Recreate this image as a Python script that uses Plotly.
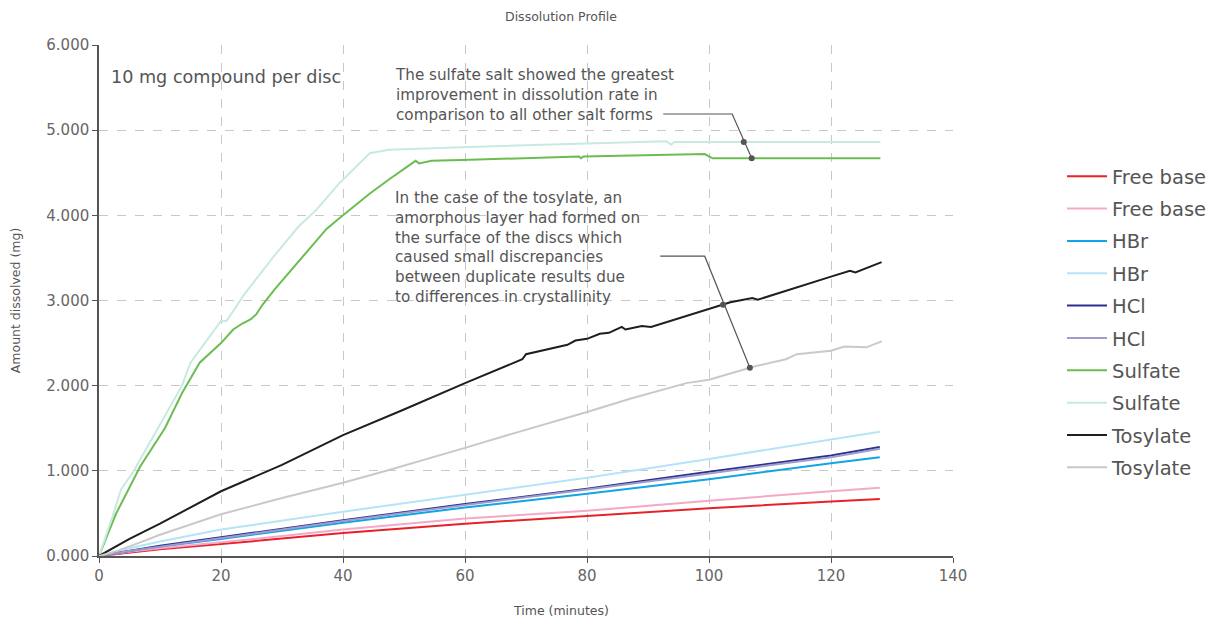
import plotly.graph_objects as go

# ---------------- data ----------------
t_lin = [0, 5, 10, 20, 40, 60, 80, 100, 120, 128]
free_base_1 = [0, 0.04, 0.08, 0.14, 0.27, 0.38, 0.47, 0.56, 0.64, 0.67]
free_base_2 = [0, 0.05, 0.09, 0.16, 0.31, 0.44, 0.53, 0.65, 0.76, 0.80]
hbr_1 = [0, 0.06, 0.11, 0.20, 0.39, 0.57, 0.73, 0.90, 1.09, 1.16]
hbr_2 = [0, 0.09, 0.17, 0.31, 0.52, 0.72, 0.92, 1.14, 1.37, 1.46]
hcl_1 = [0, 0.06, 0.12, 0.22, 0.42, 0.61, 0.79, 0.99, 1.18, 1.28]
hcl_2 = [0, 0.06, 0.11, 0.21, 0.41, 0.60, 0.78, 0.97, 1.16, 1.26]

t_sulf_1 = [0, 2.75, 6.75, 10.8, 13.6, 16.5, 20, 22, 23.5, 24.9, 25.8, 26.8, 28.9, 32.3, 37.3,
            39.3, 44.3, 47.7, 51.9, 52.5, 54.5, 59.5, 78.7, 79.0, 79.4, 99.3, 100.6, 128.1]
sulfate_1 = [0, 0.49, 1.05, 1.50, 1.91, 2.27, 2.50, 2.66, 2.73, 2.78, 2.84, 2.95, 3.14, 3.42, 3.84,
             3.96, 4.25, 4.43, 4.64, 4.61, 4.64, 4.65, 4.69, 4.67, 4.69, 4.72, 4.67, 4.67]

t_sulf_2 = [0, 2.2, 3.6, 5.6, 9.1, 11.9, 13.6, 15.0, 18.2, 20, 20.9, 23.9, 28.9, 32.6, 35.7,
            39.3, 44.4, 47.5, 59.5, 80, 93.0, 93.8, 94.3, 128.1]
sulfate_2 = [0, 0.46, 0.78, 0.99, 1.43, 1.79, 2.0, 2.27, 2.59, 2.76, 2.76, 3.08, 3.54, 3.86, 4.07,
             4.37, 4.73, 4.77, 4.80, 4.84, 4.87, 4.83, 4.86, 4.86]

t_tos_1 = [0, 5, 10, 20, 30, 40, 50, 60, 69.4, 70.0, 76.8, 78.1, 80, 82.1, 83.6, 85.7, 86.3,
           89.0, 90.5, 100, 103.5, 107.1, 108.0, 120, 123.1, 124.0, 128.3]
tosylate_1 = [0, 0.20, 0.38, 0.76, 1.07, 1.42, 1.72, 2.03, 2.31, 2.37, 2.48, 2.53, 2.55, 2.61, 2.62,
              2.69, 2.66, 2.70, 2.69, 2.90, 2.98, 3.03, 3.01, 3.28, 3.35, 3.33, 3.45]

t_tos_2 = [0, 3, 6, 10, 20, 30, 40, 47.1, 60, 66.5, 80, 87.2, 96.3, 100, 107.7, 112.6, 114.4,
           120, 122.2, 125.8, 128.3]
tosylate_2 = [0, 0.06, 0.14, 0.25, 0.49, 0.68, 0.86, 1.0, 1.27, 1.41, 1.69, 1.85, 2.03, 2.07, 2.23,
              2.31, 2.37, 2.41, 2.46, 2.45, 2.52]

series_names = ["Free base", "Free base", "HBr", "HBr", "HCl", "HCl",
                "Sulfate", "Sulfate", "Tosylate", "Tosylate"]
series_colors = ["#e8202a", "#f4a9c9", "#12a5e3", "#b5e4f7", "#2b3190", "#9f9bcb",
                 "#6bbd52", "#c8e9e2", "#1e1e1e", "#c9c9c9"]

# callout leader points (data units)
callout_sulf_x = [92.5, 103.8, 107.0]
callout_sulf_y = [5.19, 5.19, 4.67]
callout_sulf_dots_x = [105.7, 107.0]
callout_sulf_dots_y = [4.86, 4.67]
callout_tos_x = [92.0, 99.3, 106.7]
callout_tos_y = [3.52, 3.52, 2.21]
callout_tos_dots_x = [102.3, 106.7]
callout_tos_dots_y = [2.95, 2.21]

FONT = "DejaVu Sans, sans-serif"
TXT = "#555555"

# page has an 8px body margin: figure sits at (8, 8)
W, H = 1206, 613
ML, MR, MT, MB = 91, 261, 37, 65
PW, PH = W - ML - MR, H - MT - MB

xs = [t_lin] * 6 + [t_sulf_1, t_sulf_2, t_tos_1, t_tos_2]
ys = [free_base_1, free_base_2, hbr_1, hbr_2, hcl_1, hcl_2,
      sulfate_1, sulfate_2, tosylate_1, tosylate_2]

fig = go.Figure()
for i, (x, y, name, col) in enumerate(zip(xs, ys, series_names, series_colors)):
    fig.add_trace(go.Scatter(x=x, y=y, name=name, mode="lines", legendgroup="g%d" % i,
                             line=dict(color=col, width=2)))

# callouts
for cx, cy, dx, dy in [(callout_sulf_x, callout_sulf_y, callout_sulf_dots_x, callout_sulf_dots_y),
                       (callout_tos_x, callout_tos_y, callout_tos_dots_x, callout_tos_dots_y)]:
    fig.add_trace(go.Scatter(x=cx, y=cy, mode="lines", showlegend=False, hoverinfo="skip",
                             line=dict(color="#555555", width=1.2)))
    fig.add_trace(go.Scatter(x=dx, y=dy, mode="markers", showlegend=False, hoverinfo="skip",
                             marker=dict(color="#555555", size=6)))


def px_x(p):  # page pixel -> paper x
    return (p - 8 - ML) / PW


def px_y(p):  # page pixel -> paper y
    return (H - MB - (p - 8)) / PH


fig.update_layout(
    width=W, height=H,
    margin=dict(l=ML, r=MR, t=MT, b=MB, autoexpand=False),
    paper_bgcolor="white", plot_bgcolor="white",
    font=dict(family=FONT, color=TXT),
    title=dict(text="Dissolution Profile", x=(561 - 8) / W, xanchor="center",
               y=1 - (17 - 8) / H, yanchor="middle", font=dict(size=12.5, color=TXT)),
    legend=dict(x=px_x(1062), xanchor="left", y=px_y(322), yanchor="middle",
                font=dict(size=19.5, color=TXT), tracegroupgap=4, itemwidth=40,
                bgcolor="rgba(0,0,0,0)"),
    showlegend=True,
)

fig.update_xaxes(range=[0, 140], dtick=20, tick0=0, automargin=False,
                 showline=True, linecolor="#555555", linewidth=1.5,
                 ticks="outside", ticklen=5, tickcolor="#555555",
                 showgrid=True, gridcolor="#c8c8c8", griddash="dash", gridwidth=1,
                 zeroline=False, tickfont=dict(size=15, color="#666666"))
fig.update_yaxes(range=[0, 6], dtick=1, tick0=0, tickformat=".3f", automargin=False,
                 showline=True, linecolor="#555555", linewidth=1.5,
                 ticks="outside", ticklen=5, tickcolor="#555555",
                 showgrid=True, gridcolor="#c8c8c8", griddash="dash", gridwidth=1,
                 zeroline=False, tickfont=dict(size=15, color="#666666"),
                 title=dict(text="Amount dissolved (mg)", font=dict(size=12.5, color=TXT),
                            standoff=30))

fig.add_annotation(text="Time (minutes)", xref="paper", yref="paper",
                   x=px_x(561), y=px_y(610), xanchor="center", yanchor="middle",
                   showarrow=False, font=dict(size=12.5, color=TXT))
fig.add_annotation(text="10 mg compound per disc", xref="paper", yref="paper",
                   x=px_x(109), y=px_y(77), xanchor="left", yanchor="middle",
                   showarrow=False, font=dict(size=17.6, color=TXT))
fig.add_annotation(text="The sulfate salt showed the greatest<br>improvement in dissolution rate in"
                        "<br>comparison to all other salt forms",
                   xref="paper", yref="paper", x=px_x(393), y=px_y(95),
                   xanchor="left", yanchor="middle", align="left",
                   showarrow=False, font=dict(size=15.2, color=TXT))
fig.add_annotation(text="In the case of the tosylate, an<br>amorphous layer had formed on"
                        "<br>the surface of the discs which<br>caused small discrepancies"
                        "<br>between duplicate results due<br>to differences in crystallinity",
                   xref="paper", yref="paper", x=px_x(393), y=px_y(247),
                   xanchor="left", yanchor="middle", align="left",
                   showarrow=False, font=dict(size=15.2, color=TXT))

fig.write_html("out.html")
